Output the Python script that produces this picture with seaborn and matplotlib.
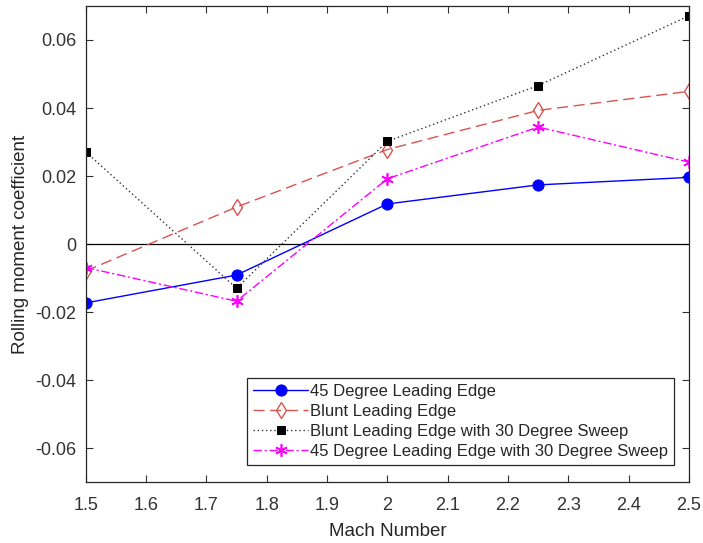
import matplotlib
matplotlib.use("Agg")
import matplotlib.pyplot as plt
import seaborn as sns
import pandas as pd

# Data
mach = [1.5, 1.75, 2.0, 2.25, 2.5]
le45 = [-0.0173, -0.0091, 0.0118, 0.0174, 0.0196]
blunt = [-0.0079, 0.0109, 0.0278, 0.0393, 0.0449]
blunt_sweep = [0.0271, -0.0130, 0.0302, 0.0466, 0.0671]
le45_sweep = [-0.0069, -0.0168, 0.0192, 0.0344, 0.0241]

labels = ["45 Degree Leading Edge", "Blunt Leading Edge",
          "Blunt Leading Edge with 30 Degree Sweep",
          "45 Degree Leading Edge with 30 Degree Sweep"]

sns.set_style("ticks")
plt.rcParams["font.family"] = ["Liberation Sans", "DejaVu Sans"]

fig = plt.figure(figsize=(7.03, 5.43), dpi=100)
ax = fig.add_axes([0.122, 0.112, 0.858, 0.877])

ax.axhline(0, color="black", lw=0.9, zorder=1)

styles = [
    dict(color="#0000ff", linestyle="-", marker="o", markersize=8, markerfacecolor="#0000ff", markeredgecolor="#0000ff"),
    dict(color="#d9534f", linestyle=(0, (8, 4)), marker="d", markersize=8.5, markerfacecolor="none", markeredgecolor="#d9534f", markeredgewidth=1.0),
    dict(color="#333333", linestyle=(0, (1, 2)), marker="s", markersize=5.5, markerfacecolor="black", markeredgecolor="black"),
    dict(color="#ff00ff", linestyle=(0, (6, 2, 1.5, 2)), marker=(6, 2, 0), markersize=9, markerfacecolor="#ff00ff", markeredgecolor="#ff00ff", markeredgewidth=1.2),
]

for y, lab, st in zip([le45, blunt, blunt_sweep, le45_sweep], labels, styles):
    df = pd.DataFrame({"Mach": mach, "C": y})
    sns.lineplot(data=df, x="Mach", y="C", ax=ax, label=lab, linewidth=1.0, **st)

ax.set_xlim(1.5, 2.5)
ax.set_ylim(-0.07, 0.07)
ax.set_xticks([1.5, 1.6, 1.7, 1.8, 1.9, 2.0, 2.1, 2.2, 2.3, 2.4, 2.5])
ax.set_xticklabels(["1.5", "1.6", "1.7", "1.8", "1.9", "2", "2.1", "2.2", "2.3", "2.4", "2.5"])
ax.set_yticks([-0.06, -0.04, -0.02, 0, 0.02, 0.04, 0.06])
ax.set_yticklabels(["-0.06", "-0.04", "-0.02", "0", "0.02", "0.04", "0.06"])
ax.tick_params(direction="in", top=True, right=True, length=5, width=0.8,
               labelsize=13, colors="#333333")
ax.tick_params(axis="x", pad=11)
ax.tick_params(axis="y", pad=7)
for s in ax.spines.values():
    s.set_linewidth(0.9)
    s.set_color("#262626")

ax.set_xlabel("Mach Number", fontsize=13.5, color="#262626", labelpad=6)
ax.set_ylabel("Rolling moment coefficient", fontsize=13.5, color="#262626", labelpad=4)

leg = ax.legend(loc="lower right", bbox_to_anchor=(0.98, 0.03), fontsize=12,
                frameon=True, fancybox=False, edgecolor="#262626", framealpha=1,
                handlelength=3.3, handletextpad=0.1, borderpad=0.35, labelspacing=0.3,
                borderaxespad=0.2)
leg.get_frame().set_linewidth(0.9)

fig.savefig("out.png", dpi=100)
